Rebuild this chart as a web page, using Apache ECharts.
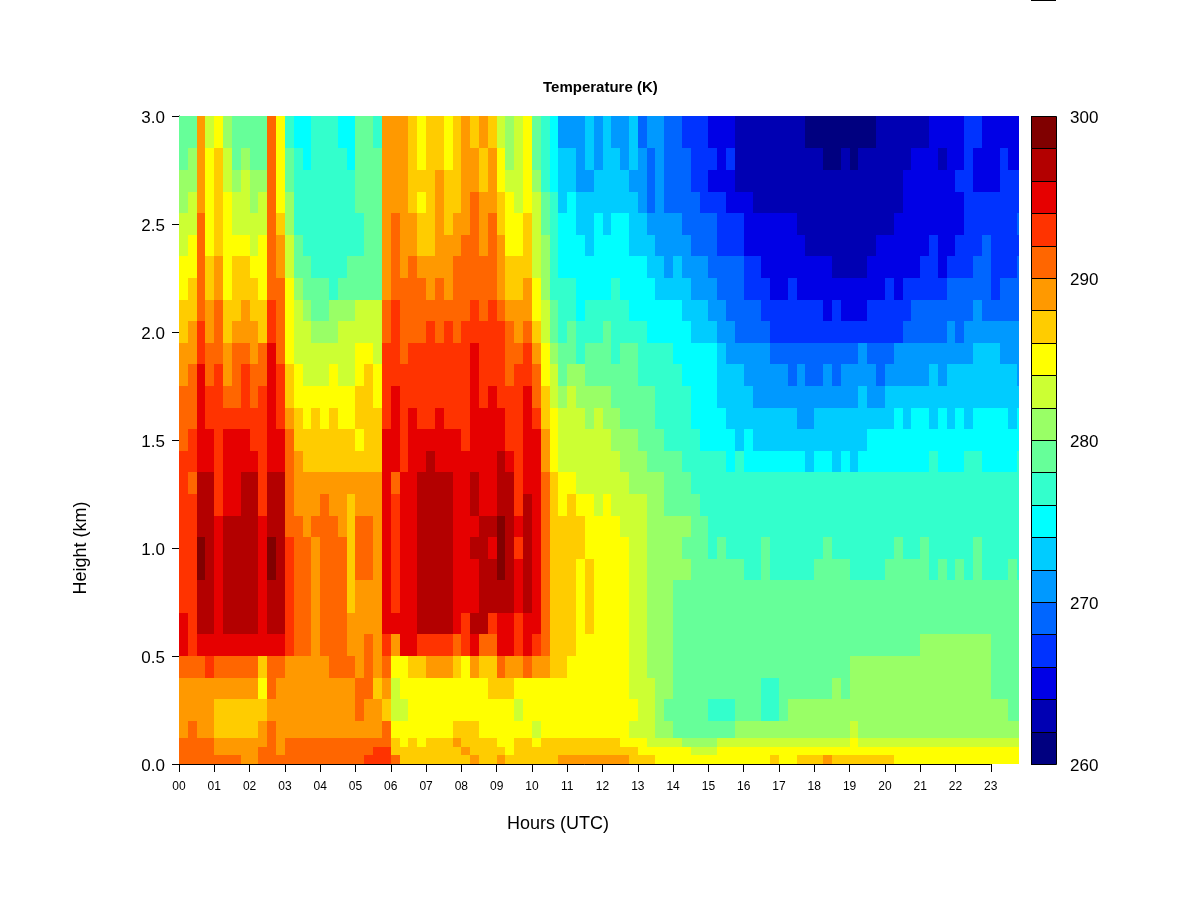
<!DOCTYPE html>
<html><head><meta charset="utf-8">
<style>html,body{margin:0;padding:0;background:#fff}#c{width:1200px;height:900px}</style>
<script src="https://cdn.jsdelivr.net/npm/echarts@6/dist/echarts.min.js"></script>
</head><body><div id="c"></div>
<script>
// Band values in kelvin, one value per quarter hour (4 per hour, 24 hours)
const t280=[279,279,289,283,285,281,279,279,279,279,291,285,277,275,275,277,277,277,275,275,279,279,277,289,289,289,287,285,287,287,285,287,289,287,289,287,283,281,283,285,279,277,275,271,271,271,273,271,273,271,271,273,269,271,271,269,269,267,267,267,265,265,265,263,263,263,263,263,263,263,263,261,261,261,261,261,261,261,261,263,263,263,263,263,263,265,265,265,265,267,267,265,265,265,265,265];
const n280=[279,281,289,285,287,283,279,281,279,279,291,285,279,277,275,277,277,277,277,275,279,279,279,289,289,289,287,285,287,287,285,287,289,289,287,289,285,281,283,285,279,277,275,273,273,271,273,271,273,273,271,273,271,269,271,269,269,269,267,267,267,265,267,263,263,263,263,263,263,263,263,263,263,261,261,263,261,263,263,263,263,263,263,265,265,265,263,265,265,267,265,265,265,267,265,265];
const t260=[281,281,289,285,287,283,281,283,281,281,291,285,279,277,277,277,277,277,277,277,279,279,279,289,289,289,287,287,287,289,287,287,289,289,287,289,285,283,283,285,281,277,275,273,273,271,271,273,273,273,273,271,271,269,271,269,269,269,267,267,265,265,265,263,263,263,263,263,263,263,263,263,263,263,263,263,263,263,263,263,263,263,265,265,265,265,265,265,267,267,265,265,265,267,267,267];
const n260=[281,283,289,285,287,285,283,283,281,283,291,285,281,277,277,277,277,277,277,277,279,279,279,289,289,289,287,285,287,289,287,287,289,291,289,289,287,285,283,285,283,279,277,273,275,273,273,273,273,273,273,273,271,269,271,269,269,269,269,267,267,267,265,265,265,263,263,263,263,263,263,263,263,263,263,263,263,263,263,263,263,263,265,265,265,265,265,265,265,267,267,267,267,267,267,267];
const t240=[283,283,291,285,287,285,283,283,283,283,291,287,281,277,277,277,277,277,277,277,277,279,279,289,291,289,289,287,287,289,287,289,289,291,289,291,287,285,285,287,283,279,277,275,275,273,273,275,273,275,275,273,273,271,271,271,271,269,269,269,269,267,267,267,265,265,265,265,265,265,263,263,263,263,263,263,263,263,263,263,263,265,265,265,265,265,265,265,265,267,267,267,267,267,267,269];
const n240=[283,285,291,285,287,285,285,285,283,285,291,289,283,279,277,277,277,277,277,277,277,279,279,289,291,289,289,287,287,289,289,289,291,291,289,291,289,285,285,287,283,281,277,275,275,275,273,275,275,275,275,273,273,273,271,271,271,271,269,269,269,267,267,267,265,265,265,265,265,265,265,263,263,263,263,263,263,263,263,265,265,265,265,265,265,267,265,265,267,267,267,269,267,267,267,267];
const t220=[285,285,291,287,289,285,287,287,285,285,291,289,283,279,279,277,277,277,277,279,279,279,279,289,291,289,291,289,289,289,289,291,291,291,291,291,289,287,287,287,283,281,277,275,275,275,275,275,275,275,275,275,275,273,273,271,273,271,271,271,269,269,269,269,267,267,265,265,265,265,265,265,265,265,263,263,263,263,265,265,265,265,265,265,267,267,265,267,267,267,269,269,267,267,267,269];
const n220=[285,287,291,287,289,285,287,287,287,285,291,291,285,281,279,279,279,277,279,279,279,279,279,289,291,291,291,291,289,291,289,291,291,291,291,291,289,287,287,289,285,281,277,277,277,275,275,275,275,277,275,275,275,275,273,273,273,273,271,271,271,269,269,269,267,267,267,265,265,267,265,265,265,265,265,265,265,265,265,265,267,265,267,267,267,267,267,269,269,269,269,269,267,269,269,269];
const t200=[287,287,291,289,291,287,287,289,287,287,293,291,285,283,281,279,279,281,281,281,283,283,283,291,293,291,291,291,291,291,291,291,291,293,291,293,291,289,289,289,285,283,279,277,277,275,277,277,277,277,277,275,275,275,275,275,275,273,273,273,271,271,269,269,269,269,267,267,267,267,267,267,267,265,267,265,265,265,267,267,267,267,267,269,269,269,269,269,269,269,271,269,269,269,269,269];
const n200=[287,289,293,289,291,287,289,289,289,287,293,291,285,283,283,281,281,281,283,283,283,283,283,291,293,291,291,291,293,291,293,291,293,293,293,293,293,291,289,291,287,283,279,277,279,277,277,277,279,277,277,277,277,275,275,275,275,275,273,273,273,271,271,269,269,269,269,267,267,267,267,267,267,267,267,267,267,267,267,267,267,267,269,269,269,269,269,271,269,271,271,271,271,271,271,271,269,271];
const t180=[289,289,293,291,291,289,291,291,289,291,295,291,285,283,283,283,283,283,283,283,285,285,283,293,293,291,293,293,293,293,293,293,293,295,293,293,293,291,291,293,289,285,281,279,279,277,279,279,279,277,279,279,277,277,277,277,275,275,275,275,275,273,271,271,271,271,271,269,269,269,269,269,269,269,269,269,269,271,269,269,269,271,271,271,271,271,271,271,271,271,273,273,273,271,271,271];
const n180=[289,291,295,291,293,289,291,293,291,291,295,293,287,285,283,283,283,285,283,283,285,287,285,293,293,293,293,293,293,293,293,293,293,295,293,293,293,291,293,293,291,285,283,279,281,281,279,279,279,279,279,279,277,277,277,277,277,275,275,275,275,273,273,273,271,271,271,271,271,269,271,269,269,271,269,271,271,271,271,269,271,271,271,271,271,273,271,273,273,273,273,273,273,273,273,271];
const t160=[291,291,295,293,293,291,291,293,291,293,295,293,287,285,285,285,285,285,285,285,287,287,285,293,295,293,293,293,293,293,293,293,293,295,293,295,293,293,293,295,291,287,283,281,283,281,281,281,281,279,279,279,279,279,277,277,277,277,275,275,275,273,273,273,273,271,271,271,271,271,271,271,271,271,271,271,271,273,271,271,273,273,273,273,273,273,273,273,273,273,273,273,273,273,273,273];
const n160=[291,291,295,293,293,293,293,293,293,293,295,293,289,287,285,287,285,287,285,285,287,287,287,293,295,293,295,293,293,295,293,293,293,295,295,295,295,293,293,295,293,287,285,283,283,283,281,283,281,281,279,279,279,279,277,277,277,277,275,275,275,275,273,273,273,273,273,273,273,273,271,271,273,273,273,273,273,273,273,273,273,275,273,275,275,273,275,273,275,273,275,275,275,275,273,275];
const t140=[291,293,295,295,293,295,295,295,293,293,295,295,291,287,287,287,287,287,287,287,285,287,287,295,295,293,295,295,295,295,295,295,293,295,295,295,295,293,293,295,295,289,285,283,283,283,283,283,283,281,281,281,279,279,279,277,277,277,277,275,275,275,275,273,275,273,273,273,273,273,273,273,273,273,273,273,273,273,275,275,275,275,275,275,275,275,275,275,275,275,275,275,275,275,275,275];
const n140=[293,293,295,295,293,295,295,295,295,293,295,295,291,289,287,287,287,287,287,287,287,287,287,295,295,293,295,295,297,295,295,295,295,295,295,295,297,295,293,295,295,289,285,283,283,283,283,283,283,283,281,281,281,279,279,279,279,277,277,277,277,277,275,277,275,275,275,275,275,275,275,273,275,275,273,275,273,275,275,275,275,275,275,275,275,277,275,275,275,277,277,275,275,275,275,277];
const t120=[293,291,297,297,293,295,295,297,297,293,297,297,291,289,289,289,289,289,289,289,289,289,289,295,291,295,295,297,297,297,297,295,295,297,295,295,297,297,293,295,295,291,287,285,285,283,283,283,283,283,283,281,281,281,281,279,279,279,277,277,277,277,277,277,277,277,277,277,277,277,277,277,277,277,277,277,277,277,277,277,277,277,277,277,277,277,277,277,277,277,277,277,277,277,277,277];
const n120=[293,293,297,297,293,295,295,297,297,293,297,297,291,289,289,289,291,289,289,287,289,289,289,295,293,295,295,297,297,297,297,295,295,297,295,295,297,297,293,297,295,291,287,285,287,285,285,283,285,283,283,283,283,281,281,279,279,279,279,277,277,277,277,277,277,277,277,277,277,277,277,277,277,277,277,277,277,277,277,277,277,277,277,277,277,277,277,277,277,277,277,277,277,277,277,277];
const t100=[293,293,297,297,295,297,297,297,297,295,297,297,291,291,289,291,291,291,289,287,291,291,289,295,293,295,295,297,297,297,297,295,295,295,297,297,299,297,295,297,295,291,287,287,287,287,285,285,285,285,283,283,283,281,281,281,281,281,279,279,277,277,277,277,277,277,277,277,277,277,277,277,277,277,277,277,277,277,277,277,277,277,277,277,277,277,277,277,277,277,277,277,277,277,277,277];
const n100=[293,293,299,297,295,297,297,297,297,295,299,297,293,291,291,289,291,291,291,287,291,291,289,295,293,295,295,297,297,297,297,295,295,297,297,295,299,297,293,297,295,291,287,287,287,287,285,285,285,285,285,283,283,281,281,281,281,279,279,279,277,279,277,277,277,277,279,277,277,277,277,277,277,279,277,277,277,277,277,277,277,279,277,277,279,277,277,277,277,277,279,277,277,277,277,277];
const t080=[293,293,299,297,295,297,297,297,297,295,299,297,293,291,291,289,291,291,291,287,291,291,289,295,293,295,295,297,297,297,297,295,295,295,297,297,299,297,295,297,295,291,287,287,287,285,287,285,285,285,285,283,283,281,281,281,281,281,279,279,279,279,279,279,277,277,279,277,277,277,277,277,279,279,279,279,277,277,277,277,279,279,279,279,279,277,279,277,279,277,279,277,277,277,279,277];
const t070=[293,293,297,297,295,297,297,297,297,295,297,297,293,291,291,289,291,291,291,287,289,289,289,295,293,295,295,297,297,297,297,295,295,295,297,297,297,297,295,297,295,291,287,287,287,285,287,285,285,285,285,283,283,281,281,281,279,279,279,279,279,279,279,279,279,279,279,279,279,279,279,279,279,279,279,279,279,279,279,279,279,279,279,279,279,279,279,279,279,279,279,279,279,279,279,279];
const t060=[295,293,297,297,295,297,297,297,297,295,297,297,293,291,291,289,291,291,291,289,289,289,289,295,295,295,295,297,297,297,297,295,293,297,297,293,295,295,293,295,295,291,287,287,287,285,287,285,285,285,285,283,283,281,281,281,279,279,279,279,279,279,279,279,279,279,279,279,279,279,279,279,279,279,279,279,279,279,279,279,279,279,279,279,279,279,279,279,279,279,279,279,279,279,279,279];
const t050=[295,293,295,295,295,295,295,295,295,295,295,295,293,291,291,289,291,291,291,289,289,291,289,293,289,295,295,293,293,293,293,291,293,295,291,291,295,295,293,295,293,291,287,287,287,285,285,285,285,285,285,283,283,281,281,281,279,279,279,279,279,279,279,279,279,279,279,279,279,279,279,279,279,279,279,279,279,279,279,279,279,279,279,279,281,281,281,281,281,281,281,281,279,279,279,279];
const t040=[291,291,291,293,291,291,291,291,291,287,291,291,289,289,289,289,289,291,291,291,289,291,289,291,285,285,287,287,289,289,289,287,285,289,287,287,291,289,289,291,289,289,287,287,285,285,285,285,285,285,285,283,283,281,281,281,279,279,279,279,279,279,279,279,279,279,279,279,279,279,279,279,279,279,279,279,281,281,281,281,281,281,281,281,281,281,281,281,281,281,281,281,279,279,279,279];
const t030=[289,289,289,289,289,289,289,289,289,285,291,289,289,289,289,289,289,289,289,289,291,291,287,289,283,285,285,285,285,285,285,285,285,285,285,287,287,287,285,285,285,285,285,285,285,285,285,285,285,285,285,283,283,283,281,281,279,279,279,279,279,279,279,279,279,279,277,277,279,279,279,279,279,279,281,279,281,281,281,281,281,281,281,281,281,281,281,281,281,281,281,281,279,279,279,279];
const t020=[289,289,289,289,287,287,287,287,287,287,289,289,289,289,289,289,289,289,289,289,291,289,289,287,283,283,285,285,285,285,285,285,285,285,285,285,285,285,283,285,285,285,285,285,285,285,285,285,285,285,285,285,283,283,281,279,279,279,279,279,277,277,277,279,279,279,277,277,279,281,281,281,281,281,281,281,281,281,281,281,281,281,281,281,281,281,281,281,281,281,281,281,281,281,279,279];
const t012=[289,291,289,289,287,287,287,287,287,289,291,289,289,289,289,289,289,289,289,289,289,289,289,291,285,285,285,285,285,285,285,287,287,287,285,285,285,285,285,285,283,285,285,285,285,285,285,285,285,285,285,283,283,283,281,281,279,279,279,279,279,279,279,281,281,281,281,281,281,281,281,281,281,281,281,281,283,281,281,281,281,281,281,281,281,281,281,281,281,281,281,281,281,281,281,281];
const t008=[291,291,291,291,289,289,289,289,289,289,291,289,291,291,291,291,291,291,291,291,291,291,291,291,287,285,287,285,287,287,287,289,287,287,287,287,285,285,287,287,285,287,287,287,287,287,287,287,287,287,285,285,285,283,283,283,283,281,281,281,281,283,283,283,283,283,283,283,283,283,283,283,283,283,283,283,285,283,283,283,283,283,283,283,283,283,283,283,283,283,283,283,283,283,283,283];
const t004=[291,291,291,291,289,289,289,289,289,291,291,289,291,291,291,291,291,291,291,291,291,291,293,293,287,287,287,287,287,287,287,287,289,287,287,287,287,285,287,287,287,287,287,287,287,287,287,287,287,287,287,287,285,285,285,285,285,285,283,283,283,285,285,285,285,285,285,285,285,285,285,285,285,285,285,285,285,285,285,285,285,285,285,285,285,285,285,285,285,285,285,285,285,285,285,285];
const t000=[291,291,291,291,291,291,291,289,289,291,291,291,291,291,291,291,291,291,291,291,291,293,293,293,291,287,287,287,287,287,287,287,287,289,287,287,289,287,287,287,287,287,287,289,289,289,289,289,289,289,289,287,287,287,285,285,285,285,285,285,285,285,285,285,285,285,285,287,285,285,287,287,287,289,287,287,287,287,287,287,287,285,285,285,285,285,285,285,285,285,285,285,285,285,285,285];
const bandEdgesKm=[0,0.04,0.08,0.12,0.2,0.3,0.4,0.5,0.6,0.7,0.85,0.95,1.05,1.15,1.25,1.35,1.45,1.55,1.65,1.75,1.85,1.95,2.05,2.15,2.25,2.35,2.45,2.55,2.65,2.75,2.85,3.0];
const bandRows=[t000,t004,t008,t012,t020,t030,t040,t050,t060,t070,t080,n100,t100,n120,t120,n140,t140,n160,t160,n180,t180,n200,t200,n220,t220,n240,t240,n260,t260,n280,t280];
const hourStep=0.25;
const hourTicks=[0,1,2,3,4,5,6,7,8,9,10,11,12,13,14,15,16,17,18,19,20,21,22,23];
const barLevels=[260,262,264,266,268,270,272,274,276,278,280,282,284,286,288,290,292,294,296,298];
const barColors=['#000080','#0000B3','#0000E6','#0033FF','#0066FF','#0099FF','#00CCFF','#00FFFF','#33FFCC','#66FF99','#99FF66','#CCFF33','#FFFF00','#FFCC00','#FF9900','#FF6600','#FF3300','#E60000','#B30000','#800000'];

const fam='"Liberation Sans",Arial,sans-serif';
function colorOf(v){return barColors[Math.max(0,Math.min(19,Math.floor((v-260)/2)))];}
const cells=[];
bandRows.forEach((row,r)=>row.forEach((v,c)=>cells.push([c*hourStep,(c+1)*hourStep,bandEdgesKm[r],bandEdgesKm[r+1],v])));
const barData=barLevels.map(l=>[l,l+2]);

function rectCell(params,api){
  const a=api.coord([api.value(0),api.value(3)]),b=api.coord([api.value(1),api.value(2)]);
  const x=Math.round(a[0]),y=Math.round(a[1]);
  return {type:'rect',shape:{x:x,y:y,width:Math.round(b[0])-x,height:Math.round(b[1])-y},
    style:{fill:colorOf(api.value(4))}};
}
function barCell(params,api){
  const a=api.coord([0,api.value(1)]),b=api.coord([1,api.value(0)]);
  const y=Math.round(a[1])+0.5,h=Math.round(b[1])-Math.round(a[1]);
  return {type:'rect',shape:{x:Math.round(a[0])+0.5,y:y,width:Math.round(b[0]-a[0]),height:h},
    style:{fill:colorOf(api.value(0)+1),stroke:'#000',lineWidth:1}};
}
const bigLabel={fontFamily:fam,fontSize:17,color:'#000',padding:[4,0,0,0]};
const chart=echarts.init(document.getElementById('c'),null,{renderer:'canvas'});
chart.setOption({
  animation:false,backgroundColor:'#fff',
  title:{text:'Temperature (K)',left:543,top:80,
    textStyle:{fontFamily:fam,fontSize:15,fontWeight:'bold',color:'#000'},padding:0},
  grid:[{left:179,top:116,width:840,height:648},{left:1031,top:116,width:25,height:648}],
  xAxis:[{gridIndex:0,type:'value',min:0,max:23.8,interval:1,splitLine:{show:false},
      axisLine:{show:false},
      axisTick:{show:true,length:8,customValues:hourTicks,lineStyle:{color:'#000',width:1}},
      axisLabel:{show:true,customValues:hourTicks,margin:17,fontFamily:fam,fontSize:12,color:'#000',
        formatter:v=>String(v).padStart(2,'0')}},
    {gridIndex:1,type:'value',min:0,max:1,show:false}],
  yAxis:[{gridIndex:0,type:'value',min:0,max:3,interval:0.5,splitLine:{show:false},
      axisLine:{show:true,lineStyle:{color:'#000',width:1}},
      axisTick:{show:true,length:7,lineStyle:{color:'#000',width:1}},
      axisLabel:{margin:14,formatter:v=>'{a|'+v.toFixed(1)+'}',rich:{a:bigLabel}}},
    {gridIndex:1,type:'value',position:'right',min:260,max:300,interval:10,splitLine:{show:false},
      axisLine:{show:false},
      axisTick:{show:true,length:8,lineStyle:{color:'#000',width:1}},
      axisLabel:{margin:14,formatter:v=>'{a|'+v+'}',rich:{a:bigLabel}}}],
  series:[
    {type:'custom',name:'Temperature',xAxisIndex:0,yAxisIndex:0,data:cells,renderItem:rectCell,clip:true,silent:true,
      progressive:0,encode:{x:[0,1],y:[2,3]},
      markLine:{silent:true,symbol:'none',label:{show:false},lineStyle:{color:'#000',width:1,type:'solid'},
        data:[[{coord:[hourTicks[0],0]},{coord:[hourTicks[23],0]}]]}},
    {type:'custom',name:'Scale',xAxisIndex:1,yAxisIndex:1,data:barData,renderItem:barCell,clip:false,silent:true,encode:{y:[0,1]}}
  ],
  graphic:[
    {type:'text',left:507,top:815,style:{text:'Hours (UTC)',font:'18px '+fam,fill:'#000'}},
    {type:'text',x:81,y:548,rotation:Math.PI/2,style:{text:'Height (km)',font:'18px '+fam,fill:'#000',textAlign:'center',textVerticalAlign:'middle'}},
    {type:'rect',shape:{x:1031,y:0,width:25,height:1},style:{fill:'#000'}}
  ]
});
</script></body></html>
